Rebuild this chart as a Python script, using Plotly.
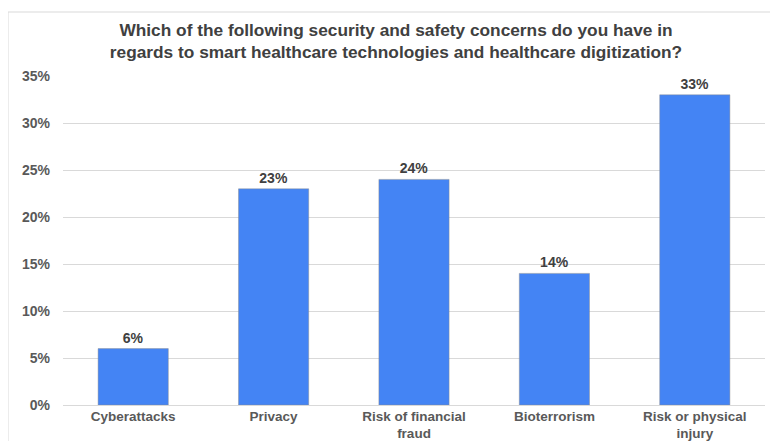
import plotly.graph_objects as go

categories = ["Cyberattacks", "Privacy", "Risk of financial<br>fraud", "Bioterrorism", "Risk or physical<br>injury"]
values = [0.06, 0.23, 0.24, 0.14, 0.33]
title_text = ("Which of the following security and safety concerns do you have in<br>"
              "regards to smart healthcare technologies and healthcare digitization?")

# the page places the figure 8px from the top-left corner (default body margin)
W, H = 770, 433
L, R, T, B = 55, 13, 68, 36
pw, ph = W - L - R, H - T - B
FONT = "Liberation Sans, Arial, sans-serif"

fig = go.Figure()
fig.add_trace(go.Bar(
    x=categories, y=values,
    marker=dict(color="#4484f4", line=dict(color="rgba(140,140,140,0.45)", width=1)),
    text=[f"{v*100:.0f}%" for v in values],
    textposition="outside",
    textfont=dict(family=FONT, size=14, color="#404040", weight="bold"),
    cliponaxis=False,
    width=0.5,
))

def px_to_paper_x(px):
    return (px - L) / pw

def px_to_paper_y(py):
    return (H - B - py) / ph

fig.update_layout(
    width=W, height=H,
    margin=dict(l=L, r=R, t=T, b=B),
    paper_bgcolor="white", plot_bgcolor="white",
    showlegend=False,
    title=dict(text="<b>" + title_text + "</b>", x=388 / W, xanchor="center",
               y=1 - 28 / H, yanchor="middle", automargin=False,
               font=dict(family=FONT, size=17.3, color="#404040")),
    font=dict(family=FONT),
    xaxis=dict(showgrid=False, showline=False, ticks="", automargin=False,
               tickfont=dict(size=13.5, color="#595959", weight="bold"),
               ticklabelstandoff=1),
    yaxis=dict(range=[0, 0.35], dtick=0.05, tickformat=".0%", automargin=False,
               showgrid=True, gridcolor="#d9d9d9", gridwidth=1,
               zeroline=True, zerolinecolor="#d9d9d9", zerolinewidth=1,
               showline=False, ticks="",
               tickfont=dict(size=14, color="#595959", weight="bold"),
               ticklabelstandoff=12),
    shapes=[dict(type="rect", xref="paper", yref="paper",
                 x0=px_to_paper_x(0), x1=px_to_paper_x(774),
                 y0=px_to_paper_y(438), y1=px_to_paper_y(4),
                 line=dict(color="#d9d9d9", width=1), fillcolor="rgba(0,0,0,0)", layer="below")],
)

fig.write_html("out.html")
